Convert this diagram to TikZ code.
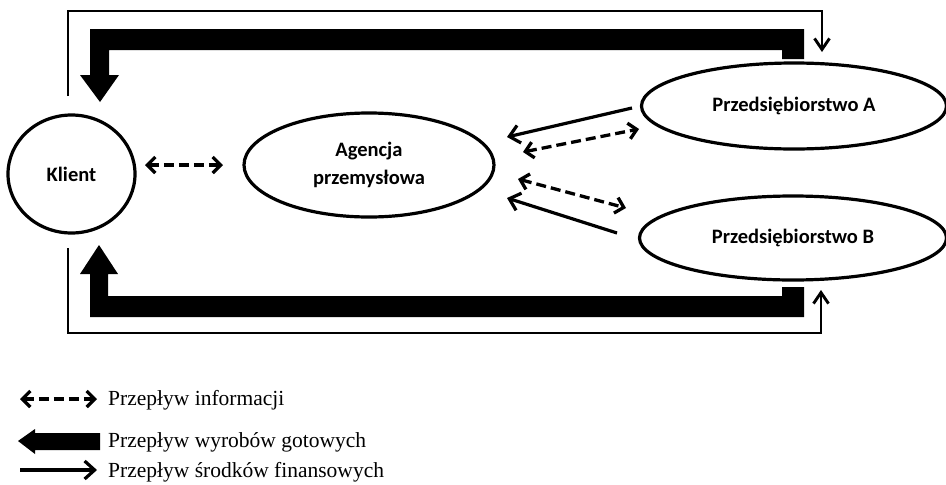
\documentclass[tikz,border=0pt]{standalone}
\usepackage{fontspec}
\setmainfont{Liberation Serif}
\newfontfamily\calibri{Carlito}
\usetikzlibrary{arrows.meta,shapes.geometric}
\tikzset{
  ent/.style={ellipse, draw, line width=3.2pt, inner sep=0pt, font=\calibri\bfseries\fontsize{20.5}{28}\selectfont, align=center},
  info/.style={line width=3.3pt, dash pattern=on 10pt off 5pt, {Straight Barb[length=8pt,width=16pt,line width=3.3pt]}-{Straight Barb[length=8pt,width=16pt,line width=3.3pt]}},
  money/.style={line width=3.2pt, -{Straight Barb[length=10pt,width=18pt,line width=3.2pt]}},
  frame/.style={line width=2.9pt, -{Straight Barb[length=11pt,width=15pt,line width=2.9pt]}},
  goods/.style={fill=black, draw=none},
  legtext/.style={anchor=west, font=\fontsize{21.5}{25}\selectfont, inner sep=0pt}
}
\begin{document}
\begin{tikzpicture}[x=1pt,y=-1pt]
\useasboundingbox (0,0) rectangle (946,485);

% nodes
\node[ent, minimum width=127pt, minimum height=118pt] (klient) at (71.5,174) {Klient};
\node[ent, minimum width=250pt, minimum height=104pt] (agencja) at (369,165) {Agencja\\przemysłowa};
\node[ent, minimum width=305pt, minimum height=86pt] (pa) at (794,106) {Przedsiębiorstwo A};
\node[ent, minimum width=307pt, minimum height=84pt] (pb) at (793,238) {Przedsiębiorstwo B};

% thick goods arrows
\fill[goods] (804,59) -- (804,29) -- (90,29) -- (90,75) -- (80,75) -- (100,102) -- (119,75) -- (109,75) -- (109,50) -- (782,50) -- (782,59) -- cycle;
\fill[goods] (99,245) -- (118,274) -- (108,274) -- (108,296) -- (782,296) -- (782,287) -- (804,287) -- (804,317) -- (90,317) -- (90,274) -- (80,274) -- cycle;

% thin money frame
\coordinate (ts) at (68,96);
\coordinate (te) at (822,52);
\coordinate (bs) at (68,248);
\coordinate (be) at (821,290);
\draw[frame] (ts) -- (68,11) -- (822,11) -- (te);
\draw[frame] (bs) -- (68,333) -- (821,333) -- (be);

% info arrows
\coordinate (i1a) at (145,165);
\coordinate (i1b) at (223,165);
\draw[info] (i1a) -- (i1b);
\coordinate (i2a) at (523,152);
\coordinate (i2b) at (639,129);
\draw[info] (i2a) -- (i2b);
\coordinate (i3a) at (518,179);
\coordinate (i3b) at (626,208);
\draw[info] (i3a) -- (i3b);

% money arrows
\coordinate (m1a) at (632,108);
\coordinate (m1b) at (507,137);
\draw[money] (m1a) -- (m1b);
\coordinate (m2a) at (617,233);
\coordinate (m2b) at (507,198);
\draw[money] (m2a) -- (m2b);

% legend
\coordinate (l1a) at (20,399);
\coordinate (l1b) at (97,399);
\draw[info] (l1a) -- (l1b);
\node[legtext] (lt1) at (108,400) {Przepływ informacji};
\fill[goods] (18,441) -- (35,429) -- (35,433) -- (100,433) -- (100,450) -- (35,450) -- (35,454) -- cycle;
\node[legtext] (lt2) at (108,442) {Przepływ wyrobów gotowych};
\coordinate (l3a) at (20,470);
\coordinate (l3b) at (97,470);
\draw[money] (l3a) -- (l3b);
\node[legtext] (lt3) at (108,472) {Przepływ środków finansowych};
\end{tikzpicture}
\end{document}
